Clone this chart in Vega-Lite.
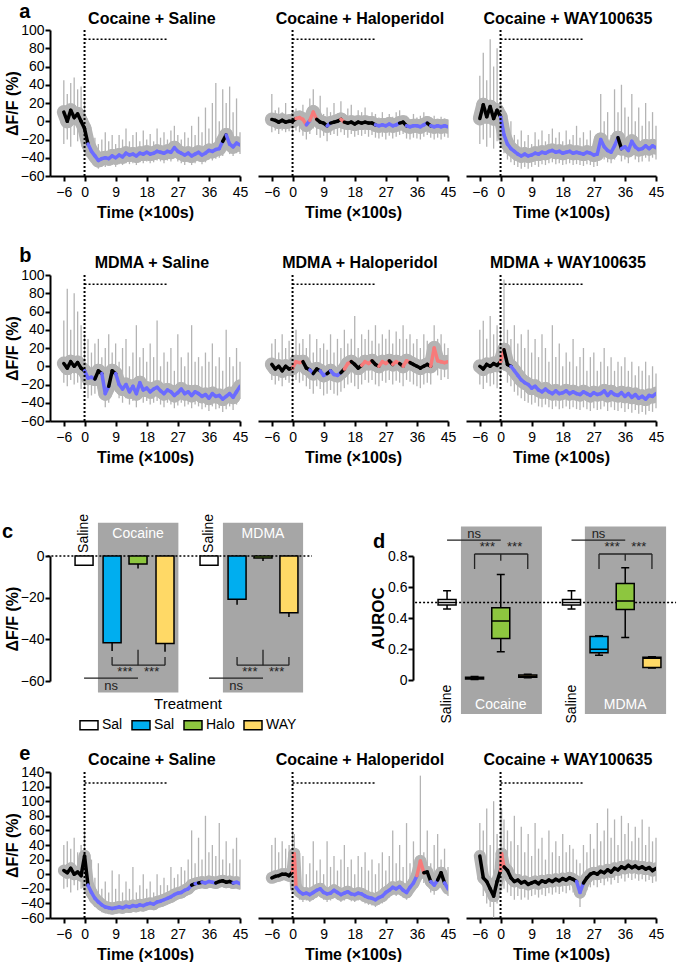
{
"$schema":"https://vega.github.io/schema/vega-lite/v6.json",
"padding":{"left":2,"top":2,"right":2,"bottom":0},
"config":{
"font":"Liberation Sans",
"view":{"stroke":null},
"axis":{"grid":false,"domainColor":"#000","domainWidth":2,"tickColor":"#000","tickWidth":2,"tickSize":5,"tickCount":30,"labelColor":"#000","labelFontSize":14,"titleColor":"#000","titleFontSize":16,"titleFontWeight":"bold","labelOverlap":false,"labelFlush":false,"labelBound":false},
"axisX":{"labelPadding":4,"titlePadding":5},
"axisY":{"labelPadding":1,"titlePadding":0},
"text":{"font":"Liberation Sans"}
},
"datasets":{
"lines":[
{"p":"a1","t":-6,"lo":-25,"hi":45,"v":10,"k":"n"},{"p":"a1","t":-5,"lo":-20,"hi":30,"v":0,"k":"n"},{"p":"a1","t":-4,"lo":-28,"hi":42,"v":12,"k":"n"},{"p":"a1","t":-3,"lo":-15,"hi":48,"v":4,"k":"n"},{"p":"a1","t":-2,"lo":-22,"hi":35,"v":8,"k":"n"},{"p":"a1","t":-1,"lo":-18,"hi":38,"v":0,"k":"n"},{"p":"a1","t":0,"lo":-25,"hi":25,"v":-8,"k":"n"},{"p":"a1","t":1,"lo":-38,"hi":-5,"v":-25,"k":"d"},{"p":"a1","t":2,"lo":-45,"hi":-15,"v":-33,"k":"d"},{"p":"a1","t":3,"lo":-48,"hi":-18,"v":-38,"k":"d"},{"p":"a1","t":4,"lo":-52,"hi":-25,"v":-43,"k":"d"},{"p":"a1","t":5,"lo":-50,"hi":-20,"v":-41,"k":"d"},{"p":"a1","t":6,"lo":-50,"hi":-12,"v":-40,"k":"d"},{"p":"a1","t":7,"lo":-48,"hi":-22,"v":-41,"k":"d"},{"p":"a1","t":8,"lo":-48,"hi":-15,"v":-38,"k":"d"},{"p":"a1","t":9,"lo":-50,"hi":-25,"v":-40,"k":"d"},{"p":"a1","t":10,"lo":-47,"hi":-15,"v":-37,"k":"d"},{"p":"a1","t":11,"lo":-48,"hi":-20,"v":-39,"k":"d"},{"p":"a1","t":12,"lo":-46,"hi":-8,"v":-35,"k":"d"},{"p":"a1","t":13,"lo":-47,"hi":-22,"v":-37,"k":"d"},{"p":"a1","t":14,"lo":-46,"hi":-15,"v":-36,"k":"d"},{"p":"a1","t":15,"lo":-48,"hi":-12,"v":-38,"k":"d"},{"p":"a1","t":16,"lo":-45,"hi":-22,"v":-35,"k":"d"},{"p":"a1","t":17,"lo":-46,"hi":-10,"v":-36,"k":"d"},{"p":"a1","t":18,"lo":-44,"hi":-20,"v":-34,"k":"d"},{"p":"a1","t":19,"lo":-46,"hi":-14,"v":-36,"k":"d"},{"p":"a1","t":20,"lo":-45,"hi":-22,"v":-35,"k":"d"},{"p":"a1","t":21,"lo":-43,"hi":-8,"v":-33,"k":"d"},{"p":"a1","t":22,"lo":-44,"hi":-18,"v":-34,"k":"d"},{"p":"a1","t":23,"lo":-46,"hi":-12,"v":-35,"k":"d"},{"p":"a1","t":24,"lo":-43,"hi":-20,"v":-33,"k":"d"},{"p":"a1","t":25,"lo":-44,"hi":-10,"v":-34,"k":"d"},{"p":"a1","t":26,"lo":-40,"hi":-5,"v":-29,"k":"d"},{"p":"a1","t":27,"lo":-44,"hi":-15,"v":-33,"k":"d"},{"p":"a1","t":28,"lo":-46,"hi":-20,"v":-35,"k":"d"},{"p":"a1","t":29,"lo":-48,"hi":-12,"v":-37,"k":"d"},{"p":"a1","t":30,"lo":-45,"hi":-18,"v":-35,"k":"d"},{"p":"a1","t":31,"lo":-48,"hi":-5,"v":-38,"k":"d"},{"p":"a1","t":32,"lo":-46,"hi":-15,"v":-36,"k":"d"},{"p":"a1","t":33,"lo":-44,"hi":5,"v":-34,"k":"d"},{"p":"a1","t":34,"lo":-47,"hi":-12,"v":-37,"k":"d"},{"p":"a1","t":35,"lo":-45,"hi":15,"v":-35,"k":"d"},{"p":"a1","t":36,"lo":-42,"hi":-8,"v":-32,"k":"d"},{"p":"a1","t":37,"lo":-43,"hi":20,"v":-33,"k":"d"},{"p":"a1","t":38,"lo":-41,"hi":42,"v":-31,"k":"d"},{"p":"a1","t":39,"lo":-40,"hi":0,"v":-30,"k":"d"},{"p":"a1","t":40,"lo":-38,"hi":35,"v":-22,"k":"n"},{"p":"a1","t":41,"lo":-30,"hi":20,"v":-15,"k":"d"},{"p":"a1","t":42,"lo":-36,"hi":38,"v":-25,"k":"d"},{"p":"a1","t":43,"lo":-38,"hi":10,"v":-28,"k":"d"},{"p":"a1","t":44,"lo":-35,"hi":25,"v":-24,"k":"d"},{"p":"a1","t":45,"lo":-36,"hi":-12,"v":-26,"k":"d"},
{"p":"a2","t":-6,"lo":-12,"hi":30,"v":2,"k":"n"},{"p":"a2","t":-5,"lo":-10,"hi":12,"v":1,"k":"n"},{"p":"a2","t":-4,"lo":-14,"hi":15,"v":-1,"k":"n"},{"p":"a2","t":-3,"lo":-10,"hi":10,"v":1,"k":"n"},{"p":"a2","t":-2,"lo":-12,"hi":20,"v":-1,"k":"n"},{"p":"a2","t":-1,"lo":-11,"hi":8,"v":0,"k":"n"},{"p":"a2","t":0,"lo":-14,"hi":12,"v":0,"k":"n"},{"p":"a2","t":1,"lo":-10,"hi":14,"v":3,"k":"u"},{"p":"a2","t":2,"lo":-12,"hi":10,"v":4,"k":"u"},{"p":"a2","t":3,"lo":-16,"hi":18,"v":2,"k":"u"},{"p":"a2","t":4,"lo":-20,"hi":8,"v":-4,"k":"d"},{"p":"a2","t":5,"lo":-14,"hi":25,"v":1,"k":"u"},{"p":"a2","t":6,"lo":-8,"hi":35,"v":10,"k":"u"},{"p":"a2","t":7,"lo":-15,"hi":12,"v":2,"k":"n"},{"p":"a2","t":8,"lo":-18,"hi":28,"v":-1,"k":"n"},{"p":"a2","t":9,"lo":-16,"hi":8,"v":-2,"k":"n"},{"p":"a2","t":10,"lo":-22,"hi":15,"v":-5,"k":"d"},{"p":"a2","t":11,"lo":-15,"hi":10,"v":-2,"k":"n"},{"p":"a2","t":12,"lo":-14,"hi":20,"v":-1,"k":"n"},{"p":"a2","t":13,"lo":-16,"hi":6,"v":0,"k":"n"},{"p":"a2","t":14,"lo":-12,"hi":22,"v":2,"k":"u"},{"p":"a2","t":15,"lo":-15,"hi":8,"v":-1,"k":"n"},{"p":"a2","t":16,"lo":-18,"hi":14,"v":-2,"k":"n"},{"p":"a2","t":17,"lo":-14,"hi":18,"v":-1,"k":"n"},{"p":"a2","t":18,"lo":-17,"hi":6,"v":-3,"k":"n"},{"p":"a2","t":19,"lo":-15,"hi":12,"v":-1,"k":"n"},{"p":"a2","t":20,"lo":-16,"hi":10,"v":-2,"k":"n"},{"p":"a2","t":21,"lo":-14,"hi":15,"v":-1,"k":"n"},{"p":"a2","t":22,"lo":-17,"hi":5,"v":-2,"k":"n"},{"p":"a2","t":23,"lo":-15,"hi":10,"v":-2,"k":"n"},{"p":"a2","t":24,"lo":-18,"hi":8,"v":-4,"k":"d"},{"p":"a2","t":25,"lo":-19,"hi":4,"v":-5,"k":"d"},{"p":"a2","t":26,"lo":-17,"hi":10,"v":-4,"k":"d"},{"p":"a2","t":27,"lo":-20,"hi":2,"v":-5,"k":"d"},{"p":"a2","t":28,"lo":-16,"hi":8,"v":-3,"k":"d"},{"p":"a2","t":29,"lo":-19,"hi":5,"v":-5,"k":"d"},{"p":"a2","t":30,"lo":-17,"hi":10,"v":-4,"k":"d"},{"p":"a2","t":31,"lo":-15,"hi":12,"v":-2,"k":"n"},{"p":"a2","t":32,"lo":-14,"hi":5,"v":-1,"k":"n"},{"p":"a2","t":33,"lo":-19,"hi":6,"v":-5,"k":"d"},{"p":"a2","t":34,"lo":-20,"hi":2,"v":-6,"k":"d"},{"p":"a2","t":35,"lo":-18,"hi":8,"v":-5,"k":"d"},{"p":"a2","t":36,"lo":-19,"hi":4,"v":-5,"k":"d"},{"p":"a2","t":37,"lo":-20,"hi":6,"v":-6,"k":"d"},{"p":"a2","t":38,"lo":-17,"hi":10,"v":-4,"k":"d"},{"p":"a2","t":39,"lo":-15,"hi":5,"v":-2,"k":"n"},{"p":"a2","t":40,"lo":-18,"hi":3,"v":-5,"k":"d"},{"p":"a2","t":41,"lo":-20,"hi":6,"v":-6,"k":"d"},{"p":"a2","t":42,"lo":-18,"hi":2,"v":-5,"k":"d"},{"p":"a2","t":43,"lo":-20,"hi":5,"v":-6,"k":"d"},{"p":"a2","t":44,"lo":-17,"hi":3,"v":-5,"k":"d"},{"p":"a2","t":45,"lo":-18,"hi":2,"v":-6,"k":"d"},
{"p":"a3","t":-6,"lo":-25,"hi":50,"v":3,"k":"n"},{"p":"a3","t":-5,"lo":-20,"hi":75,"v":18,"k":"n"},{"p":"a3","t":-4,"lo":-28,"hi":45,"v":5,"k":"n"},{"p":"a3","t":-3,"lo":-18,"hi":90,"v":16,"k":"n"},{"p":"a3","t":-2,"lo":-30,"hi":60,"v":3,"k":"n"},{"p":"a3","t":-1,"lo":-22,"hi":80,"v":12,"k":"n"},{"p":"a3","t":0,"lo":-28,"hi":40,"v":5,"k":"d"},{"p":"a3","t":1,"lo":-35,"hi":5,"v":-15,"k":"d"},{"p":"a3","t":2,"lo":-42,"hi":-8,"v":-25,"k":"d"},{"p":"a3","t":3,"lo":-45,"hi":0,"v":-30,"k":"d"},{"p":"a3","t":4,"lo":-48,"hi":-15,"v":-33,"k":"d"},{"p":"a3","t":5,"lo":-50,"hi":-20,"v":-36,"k":"d"},{"p":"a3","t":6,"lo":-52,"hi":-10,"v":-38,"k":"d"},{"p":"a3","t":7,"lo":-50,"hi":-22,"v":-36,"k":"d"},{"p":"a3","t":8,"lo":-52,"hi":-15,"v":-38,"k":"d"},{"p":"a3","t":9,"lo":-50,"hi":-25,"v":-37,"k":"d"},{"p":"a3","t":10,"lo":-48,"hi":-12,"v":-35,"k":"d"},{"p":"a3","t":11,"lo":-50,"hi":-20,"v":-36,"k":"d"},{"p":"a3","t":12,"lo":-47,"hi":-10,"v":-34,"k":"d"},{"p":"a3","t":13,"lo":-48,"hi":-22,"v":-35,"k":"d"},{"p":"a3","t":14,"lo":-46,"hi":-14,"v":-33,"k":"d"},{"p":"a3","t":15,"lo":-45,"hi":-8,"v":-32,"k":"d"},{"p":"a3","t":16,"lo":-47,"hi":-18,"v":-34,"k":"d"},{"p":"a3","t":17,"lo":-46,"hi":-12,"v":-33,"k":"d"},{"p":"a3","t":18,"lo":-48,"hi":-22,"v":-35,"k":"d"},{"p":"a3","t":19,"lo":-47,"hi":-10,"v":-34,"k":"d"},{"p":"a3","t":20,"lo":-46,"hi":-20,"v":-33,"k":"d"},{"p":"a3","t":21,"lo":-48,"hi":-15,"v":-35,"k":"d"},{"p":"a3","t":22,"lo":-47,"hi":-5,"v":-34,"k":"d"},{"p":"a3","t":23,"lo":-48,"hi":-18,"v":-35,"k":"d"},{"p":"a3","t":24,"lo":-49,"hi":-12,"v":-36,"k":"d"},{"p":"a3","t":25,"lo":-47,"hi":-20,"v":-34,"k":"d"},{"p":"a3","t":26,"lo":-48,"hi":-10,"v":-35,"k":"d"},{"p":"a3","t":27,"lo":-50,"hi":-22,"v":-37,"k":"d"},{"p":"a3","t":28,"lo":-49,"hi":-15,"v":-36,"k":"d"},{"p":"a3","t":29,"lo":-38,"hi":30,"v":-20,"k":"d"},{"p":"a3","t":30,"lo":-42,"hi":0,"v":-28,"k":"d"},{"p":"a3","t":31,"lo":-45,"hi":10,"v":-32,"k":"d"},{"p":"a3","t":32,"lo":-46,"hi":-15,"v":-34,"k":"d"},{"p":"a3","t":33,"lo":-42,"hi":35,"v":-27,"k":"d"},{"p":"a3","t":34,"lo":-35,"hi":10,"v":-18,"k":"n"},{"p":"a3","t":35,"lo":-44,"hi":40,"v":-30,"k":"d"},{"p":"a3","t":36,"lo":-42,"hi":15,"v":-28,"k":"d"},{"p":"a3","t":37,"lo":-46,"hi":5,"v":-32,"k":"d"},{"p":"a3","t":38,"lo":-38,"hi":30,"v":-22,"k":"d"},{"p":"a3","t":39,"lo":-42,"hi":0,"v":-28,"k":"d"},{"p":"a3","t":40,"lo":-45,"hi":15,"v":-31,"k":"d"},{"p":"a3","t":41,"lo":-44,"hi":-5,"v":-30,"k":"d"},{"p":"a3","t":42,"lo":-40,"hi":20,"v":-27,"k":"d"},{"p":"a3","t":43,"lo":-44,"hi":0,"v":-30,"k":"d"},{"p":"a3","t":44,"lo":-40,"hi":10,"v":-27,"k":"d"},{"p":"a3","t":45,"lo":-42,"hi":-5,"v":-29,"k":"d"},
{"p":"b1","t":-6,"lo":-18,"hi":50,"v":3,"k":"n"},{"p":"b1","t":-5,"lo":-22,"hi":85,"v":-2,"k":"n"},{"p":"b1","t":-4,"lo":-15,"hi":40,"v":5,"k":"n"},{"p":"b1","t":-3,"lo":-20,"hi":80,"v":0,"k":"n"},{"p":"b1","t":-2,"lo":-18,"hi":60,"v":4,"k":"n"},{"p":"b1","t":-1,"lo":-25,"hi":45,"v":-2,"k":"n"},{"p":"b1","t":0,"lo":-25,"hi":35,"v":-5,"k":"d"},{"p":"b1","t":1,"lo":-35,"hi":30,"v":-13,"k":"d"},{"p":"b1","t":2,"lo":-32,"hi":15,"v":-12,"k":"d"},{"p":"b1","t":3,"lo":-30,"hi":25,"v":-14,"k":"n"},{"p":"b1","t":4,"lo":-25,"hi":30,"v":-5,"k":"n"},{"p":"b1","t":5,"lo":-30,"hi":10,"v":-8,"k":"d"},{"p":"b1","t":6,"lo":-45,"hi":20,"v":-30,"k":"d"},{"p":"b1","t":7,"lo":-40,"hi":35,"v":-22,"k":"n"},{"p":"b1","t":8,"lo":-25,"hi":15,"v":-5,"k":"n"},{"p":"b1","t":9,"lo":-28,"hi":25,"v":-8,"k":"d"},{"p":"b1","t":10,"lo":-35,"hi":5,"v":-20,"k":"d"},{"p":"b1","t":11,"lo":-40,"hi":20,"v":-25,"k":"d"},{"p":"b1","t":12,"lo":-35,"hi":30,"v":-20,"k":"d"},{"p":"b1","t":13,"lo":-42,"hi":0,"v":-28,"k":"d"},{"p":"b1","t":14,"lo":-38,"hi":15,"v":-22,"k":"d"},{"p":"b1","t":15,"lo":-45,"hi":45,"v":-30,"k":"d"},{"p":"b1","t":16,"lo":-32,"hi":10,"v":-18,"k":"d"},{"p":"b1","t":17,"lo":-40,"hi":20,"v":-26,"k":"d"},{"p":"b1","t":18,"lo":-38,"hi":5,"v":-24,"k":"d"},{"p":"b1","t":19,"lo":-42,"hi":25,"v":-28,"k":"d"},{"p":"b1","t":20,"lo":-40,"hi":10,"v":-25,"k":"d"},{"p":"b1","t":21,"lo":-38,"hi":50,"v":-23,"k":"d"},{"p":"b1","t":22,"lo":-42,"hi":0,"v":-27,"k":"d"},{"p":"b1","t":23,"lo":-45,"hi":15,"v":-30,"k":"d"},{"p":"b1","t":24,"lo":-40,"hi":5,"v":-26,"k":"d"},{"p":"b1","t":25,"lo":-42,"hi":20,"v":-28,"k":"d"},{"p":"b1","t":26,"lo":-46,"hi":-5,"v":-32,"k":"d"},{"p":"b1","t":27,"lo":-43,"hi":35,"v":-29,"k":"d"},{"p":"b1","t":28,"lo":-40,"hi":10,"v":-25,"k":"d"},{"p":"b1","t":29,"lo":-44,"hi":0,"v":-30,"k":"d"},{"p":"b1","t":30,"lo":-42,"hi":15,"v":-28,"k":"d"},{"p":"b1","t":31,"lo":-46,"hi":45,"v":-32,"k":"d"},{"p":"b1","t":32,"lo":-42,"hi":5,"v":-28,"k":"d"},{"p":"b1","t":33,"lo":-44,"hi":10,"v":-30,"k":"d"},{"p":"b1","t":34,"lo":-47,"hi":0,"v":-33,"k":"d"},{"p":"b1","t":35,"lo":-45,"hi":15,"v":-31,"k":"d"},{"p":"b1","t":36,"lo":-49,"hi":5,"v":-35,"k":"d"},{"p":"b1","t":37,"lo":-44,"hi":25,"v":-30,"k":"d"},{"p":"b1","t":38,"lo":-47,"hi":0,"v":-33,"k":"d"},{"p":"b1","t":39,"lo":-46,"hi":10,"v":-32,"k":"d"},{"p":"b1","t":40,"lo":-50,"hi":-5,"v":-36,"k":"d"},{"p":"b1","t":41,"lo":-47,"hi":40,"v":-33,"k":"d"},{"p":"b1","t":42,"lo":-44,"hi":10,"v":-30,"k":"d"},{"p":"b1","t":43,"lo":-48,"hi":0,"v":-34,"k":"d"},{"p":"b1","t":44,"lo":-42,"hi":20,"v":-28,"k":"d"},{"p":"b1","t":45,"lo":-36,"hi":5,"v":-22,"k":"d"},
{"p":"b2","t":-6,"lo":-15,"hi":25,"v":2,"k":"n"},{"p":"b2","t":-5,"lo":-20,"hi":30,"v":-3,"k":"n"},{"p":"b2","t":-4,"lo":-16,"hi":15,"v":0,"k":"n"},{"p":"b2","t":-3,"lo":-22,"hi":35,"v":-5,"k":"n"},{"p":"b2","t":-2,"lo":-15,"hi":20,"v":0,"k":"n"},{"p":"b2","t":-1,"lo":-18,"hi":28,"v":-3,"k":"n"},{"p":"b2","t":0,"lo":-20,"hi":15,"v":-2,"k":"u"},{"p":"b2","t":1,"lo":-15,"hi":40,"v":5,"k":"u"},{"p":"b2","t":2,"lo":-18,"hi":25,"v":4,"k":"u"},{"p":"b2","t":3,"lo":-16,"hi":30,"v":5,"k":"n"},{"p":"b2","t":4,"lo":-22,"hi":20,"v":-2,"k":"n"},{"p":"b2","t":5,"lo":-25,"hi":35,"v":-4,"k":"d"},{"p":"b2","t":6,"lo":-30,"hi":15,"v":-8,"k":"n"},{"p":"b2","t":7,"lo":-22,"hi":30,"v":-3,"k":"n"},{"p":"b2","t":8,"lo":-25,"hi":20,"v":-5,"k":"d"},{"p":"b2","t":9,"lo":-32,"hi":25,"v":-10,"k":"d"},{"p":"b2","t":10,"lo":-30,"hi":18,"v":-8,"k":"n"},{"p":"b2","t":11,"lo":-26,"hi":35,"v":-5,"k":"d"},{"p":"b2","t":12,"lo":-30,"hi":15,"v":-9,"k":"d"},{"p":"b2","t":13,"lo":-32,"hi":30,"v":-10,"k":"d"},{"p":"b2","t":14,"lo":-28,"hi":20,"v":-7,"k":"n"},{"p":"b2","t":15,"lo":-24,"hi":40,"v":-3,"k":"u"},{"p":"b2","t":16,"lo":-20,"hi":25,"v":3,"k":"u"},{"p":"b2","t":17,"lo":-18,"hi":30,"v":5,"k":"n"},{"p":"b2","t":18,"lo":-22,"hi":55,"v":2,"k":"n"},{"p":"b2","t":19,"lo":-25,"hi":20,"v":-2,"k":"n"},{"p":"b2","t":20,"lo":-20,"hi":35,"v":1,"k":"u"},{"p":"b2","t":21,"lo":-15,"hi":30,"v":5,"k":"u"},{"p":"b2","t":22,"lo":-18,"hi":40,"v":3,"k":"u"},{"p":"b2","t":23,"lo":-15,"hi":28,"v":6,"k":"n"},{"p":"b2","t":24,"lo":-20,"hi":45,"v":2,"k":"n"},{"p":"b2","t":25,"lo":-22,"hi":25,"v":0,"k":"u"},{"p":"b2","t":26,"lo":-16,"hi":35,"v":5,"k":"u"},{"p":"b2","t":27,"lo":-18,"hi":30,"v":3,"k":"u"},{"p":"b2","t":28,"lo":-15,"hi":40,"v":6,"k":"n"},{"p":"b2","t":29,"lo":-20,"hi":25,"v":2,"k":"u"},{"p":"b2","t":30,"lo":-16,"hi":38,"v":5,"k":"u"},{"p":"b2","t":31,"lo":-18,"hi":30,"v":3,"k":"n"},{"p":"b2","t":32,"lo":-22,"hi":45,"v":0,"k":"u"},{"p":"b2","t":33,"lo":-15,"hi":30,"v":6,"k":"u"},{"p":"b2","t":34,"lo":-17,"hi":35,"v":4,"k":"n"},{"p":"b2","t":35,"lo":-20,"hi":25,"v":2,"k":"n"},{"p":"b2","t":36,"lo":-22,"hi":30,"v":0,"k":"n"},{"p":"b2","t":37,"lo":-24,"hi":20,"v":-2,"k":"n"},{"p":"b2","t":38,"lo":-20,"hi":35,"v":0,"k":"n"},{"p":"b2","t":39,"lo":-18,"hi":28,"v":2,"k":"n"},{"p":"b2","t":40,"lo":-20,"hi":25,"v":0,"k":"u"},{"p":"b2","t":41,"lo":0,"hi":45,"v":20,"k":"u"},{"p":"b2","t":42,"lo":-10,"hi":30,"v":6,"k":"u"},{"p":"b2","t":43,"lo":-15,"hi":35,"v":5,"k":"u"},{"p":"b2","t":44,"lo":-12,"hi":25,"v":4,"k":"u"},{"p":"b2","t":45,"lo":-14,"hi":20,"v":5,"k":"u"},
{"p":"b3","t":-6,"lo":-20,"hi":40,"v":0,"k":"n"},{"p":"b3","t":-5,"lo":-25,"hi":50,"v":-3,"k":"n"},{"p":"b3","t":-4,"lo":-18,"hi":30,"v":2,"k":"n"},{"p":"b3","t":-3,"lo":-22,"hi":55,"v":0,"k":"n"},{"p":"b3","t":-2,"lo":-20,"hi":35,"v":3,"k":"n"},{"p":"b3","t":-1,"lo":-24,"hi":45,"v":1,"k":"n"},{"p":"b3","t":0,"lo":-15,"hi":40,"v":5,"k":"u"},{"p":"b3","t":1,"lo":-5,"hi":95,"v":18,"k":"n"},{"p":"b3","t":2,"lo":-18,"hi":40,"v":2,"k":"n"},{"p":"b3","t":3,"lo":-22,"hi":30,"v":0,"k":"d"},{"p":"b3","t":4,"lo":-28,"hi":45,"v":-5,"k":"d"},{"p":"b3","t":5,"lo":-32,"hi":25,"v":-10,"k":"d"},{"p":"b3","t":6,"lo":-35,"hi":35,"v":-15,"k":"d"},{"p":"b3","t":7,"lo":-38,"hi":20,"v":-18,"k":"d"},{"p":"b3","t":8,"lo":-40,"hi":40,"v":-20,"k":"d"},{"p":"b3","t":9,"lo":-42,"hi":15,"v":-24,"k":"d"},{"p":"b3","t":10,"lo":-40,"hi":30,"v":-22,"k":"d"},{"p":"b3","t":11,"lo":-44,"hi":10,"v":-26,"k":"d"},{"p":"b3","t":12,"lo":-45,"hi":35,"v":-28,"k":"d"},{"p":"b3","t":13,"lo":-42,"hi":20,"v":-25,"k":"d"},{"p":"b3","t":14,"lo":-45,"hi":5,"v":-28,"k":"d"},{"p":"b3","t":15,"lo":-47,"hi":45,"v":-30,"k":"d"},{"p":"b3","t":16,"lo":-44,"hi":10,"v":-27,"k":"d"},{"p":"b3","t":17,"lo":-47,"hi":25,"v":-30,"k":"d"},{"p":"b3","t":18,"lo":-46,"hi":0,"v":-29,"k":"d"},{"p":"b3","t":19,"lo":-44,"hi":15,"v":-27,"k":"d"},{"p":"b3","t":20,"lo":-47,"hi":5,"v":-30,"k":"d"},{"p":"b3","t":21,"lo":-45,"hi":30,"v":-28,"k":"d"},{"p":"b3","t":22,"lo":-47,"hi":0,"v":-30,"k":"d"},{"p":"b3","t":23,"lo":-48,"hi":10,"v":-31,"k":"d"},{"p":"b3","t":24,"lo":-45,"hi":20,"v":-28,"k":"d"},{"p":"b3","t":25,"lo":-47,"hi":-5,"v":-30,"k":"d"},{"p":"b3","t":26,"lo":-49,"hi":10,"v":-32,"k":"d"},{"p":"b3","t":27,"lo":-46,"hi":15,"v":-29,"k":"d"},{"p":"b3","t":28,"lo":-48,"hi":-5,"v":-31,"k":"d"},{"p":"b3","t":29,"lo":-47,"hi":5,"v":-30,"k":"d"},{"p":"b3","t":30,"lo":-44,"hi":20,"v":-27,"k":"d"},{"p":"b3","t":31,"lo":-49,"hi":0,"v":-32,"k":"d"},{"p":"b3","t":32,"lo":-45,"hi":10,"v":-28,"k":"d"},{"p":"b3","t":33,"lo":-48,"hi":-5,"v":-31,"k":"d"},{"p":"b3","t":34,"lo":-49,"hi":5,"v":-32,"k":"d"},{"p":"b3","t":35,"lo":-46,"hi":0,"v":-29,"k":"d"},{"p":"b3","t":36,"lo":-50,"hi":10,"v":-33,"k":"d"},{"p":"b3","t":37,"lo":-47,"hi":-5,"v":-30,"k":"d"},{"p":"b3","t":38,"lo":-51,"hi":5,"v":-34,"k":"d"},{"p":"b3","t":39,"lo":-48,"hi":-10,"v":-31,"k":"d"},{"p":"b3","t":40,"lo":-52,"hi":0,"v":-35,"k":"d"},{"p":"b3","t":41,"lo":-50,"hi":-5,"v":-33,"k":"d"},{"p":"b3","t":42,"lo":-53,"hi":5,"v":-36,"k":"d"},{"p":"b3","t":43,"lo":-49,"hi":-10,"v":-32,"k":"d"},{"p":"b3","t":44,"lo":-50,"hi":0,"v":-33,"k":"d"},{"p":"b3","t":45,"lo":-46,"hi":-8,"v":-30,"k":"d"},
{"p":"e1","t":-6,"lo":-20,"hi":40,"v":5,"k":"n"},{"p":"e1","t":-5,"lo":-18,"hi":45,"v":2,"k":"n"},{"p":"e1","t":-4,"lo":-25,"hi":35,"v":8,"k":"n"},{"p":"e1","t":-3,"lo":-15,"hi":50,"v":0,"k":"n"},{"p":"e1","t":-2,"lo":-22,"hi":30,"v":3,"k":"n"},{"p":"e1","t":-1,"lo":-20,"hi":40,"v":-2,"k":"n"},{"p":"e1","t":0,"lo":-25,"hi":60,"v":25,"k":"n"},{"p":"e1","t":1,"lo":-30,"hi":10,"v":-15,"k":"d"},{"p":"e1","t":2,"lo":-38,"hi":20,"v":-25,"k":"d"},{"p":"e1","t":3,"lo":-45,"hi":-5,"v":-33,"k":"d"},{"p":"e1","t":4,"lo":-48,"hi":15,"v":-38,"k":"d"},{"p":"e1","t":5,"lo":-52,"hi":-20,"v":-42,"k":"d"},{"p":"e1","t":6,"lo":-54,"hi":-10,"v":-45,"k":"d"},{"p":"e1","t":7,"lo":-55,"hi":-25,"v":-46,"k":"d"},{"p":"e1","t":8,"lo":-55,"hi":5,"v":-47,"k":"d"},{"p":"e1","t":9,"lo":-54,"hi":-20,"v":-46,"k":"d"},{"p":"e1","t":10,"lo":-53,"hi":0,"v":-45,"k":"d"},{"p":"e1","t":11,"lo":-54,"hi":-25,"v":-46,"k":"d"},{"p":"e1","t":12,"lo":-52,"hi":-10,"v":-44,"k":"d"},{"p":"e1","t":13,"lo":-53,"hi":-20,"v":-45,"k":"d"},{"p":"e1","t":14,"lo":-51,"hi":10,"v":-43,"k":"d"},{"p":"e1","t":15,"lo":-52,"hi":-25,"v":-44,"k":"d"},{"p":"e1","t":16,"lo":-50,"hi":-15,"v":-42,"k":"d"},{"p":"e1","t":17,"lo":-51,"hi":0,"v":-43,"k":"d"},{"p":"e1","t":18,"lo":-49,"hi":-20,"v":-41,"k":"d"},{"p":"e1","t":19,"lo":-48,"hi":-10,"v":-40,"k":"d"},{"p":"e1","t":20,"lo":-49,"hi":-25,"v":-41,"k":"d"},{"p":"e1","t":21,"lo":-46,"hi":0,"v":-38,"k":"d"},{"p":"e1","t":22,"lo":-45,"hi":-15,"v":-37,"k":"d"},{"p":"e1","t":23,"lo":-43,"hi":-5,"v":-35,"k":"d"},{"p":"e1","t":24,"lo":-41,"hi":-15,"v":-33,"k":"d"},{"p":"e1","t":25,"lo":-39,"hi":10,"v":-31,"k":"d"},{"p":"e1","t":26,"lo":-36,"hi":-5,"v":-28,"k":"d"},{"p":"e1","t":27,"lo":-34,"hi":0,"v":-26,"k":"d"},{"p":"e1","t":28,"lo":-33,"hi":10,"v":-25,"k":"d"},{"p":"e1","t":29,"lo":-30,"hi":5,"v":-22,"k":"d"},{"p":"e1","t":30,"lo":-28,"hi":20,"v":-20,"k":"d"},{"p":"e1","t":31,"lo":-23,"hi":60,"v":-15,"k":"n"},{"p":"e1","t":32,"lo":-21,"hi":15,"v":-13,"k":"d"},{"p":"e1","t":33,"lo":-20,"hi":50,"v":-12,"k":"n"},{"p":"e1","t":34,"lo":-19,"hi":20,"v":-11,"k":"d"},{"p":"e1","t":35,"lo":-20,"hi":80,"v":-12,"k":"d"},{"p":"e1","t":36,"lo":-18,"hi":30,"v":-10,"k":"d"},{"p":"e1","t":37,"lo":-19,"hi":40,"v":-11,"k":"d"},{"p":"e1","t":38,"lo":-20,"hi":25,"v":-12,"k":"n"},{"p":"e1","t":39,"lo":-18,"hi":70,"v":-10,"k":"n"},{"p":"e1","t":40,"lo":-17,"hi":20,"v":-9,"k":"n"},{"p":"e1","t":41,"lo":-19,"hi":45,"v":-11,"k":"n"},{"p":"e1","t":42,"lo":-18,"hi":15,"v":-10,"k":"n"},{"p":"e1","t":43,"lo":-20,"hi":35,"v":-12,"k":"d"},{"p":"e1","t":44,"lo":-19,"hi":50,"v":-11,"k":"d"},{"p":"e1","t":45,"lo":-21,"hi":20,"v":-13,"k":"d"},
{"p":"e2","t":-6,"lo":-10,"hi":40,"v":-5,"k":"n"},{"p":"e2","t":-5,"lo":-8,"hi":50,"v":-3,"k":"n"},{"p":"e2","t":-4,"lo":-10,"hi":30,"v":-2,"k":"n"},{"p":"e2","t":-3,"lo":-5,"hi":45,"v":0,"k":"n"},{"p":"e2","t":-2,"lo":-8,"hi":35,"v":0,"k":"n"},{"p":"e2","t":-1,"lo":-10,"hi":40,"v":-2,"k":"n"},{"p":"e2","t":0,"lo":-10,"hi":60,"v":3,"k":"u"},{"p":"e2","t":0.5,"lo":-5,"hi":55,"v":28,"k":"u"},{"p":"e2","t":1,"lo":-30,"hi":20,"v":-18,"k":"d"},{"p":"e2","t":2,"lo":-35,"hi":10,"v":-24,"k":"d"},{"p":"e2","t":3,"lo":-38,"hi":25,"v":-27,"k":"d"},{"p":"e2","t":4,"lo":-36,"hi":0,"v":-26,"k":"d"},{"p":"e2","t":5,"lo":-38,"hi":15,"v":-28,"k":"d"},{"p":"e2","t":6,"lo":-35,"hi":45,"v":-25,"k":"d"},{"p":"e2","t":7,"lo":-32,"hi":5,"v":-22,"k":"d"},{"p":"e2","t":8,"lo":-30,"hi":20,"v":-20,"k":"d"},{"p":"e2","t":9,"lo":-35,"hi":0,"v":-25,"k":"d"},{"p":"e2","t":10,"lo":-38,"hi":45,"v":-27,"k":"d"},{"p":"e2","t":11,"lo":-36,"hi":10,"v":-26,"k":"d"},{"p":"e2","t":12,"lo":-32,"hi":25,"v":-22,"k":"d"},{"p":"e2","t":13,"lo":-35,"hi":5,"v":-25,"k":"d"},{"p":"e2","t":14,"lo":-38,"hi":20,"v":-28,"k":"d"},{"p":"e2","t":15,"lo":-36,"hi":40,"v":-26,"k":"d"},{"p":"e2","t":16,"lo":-34,"hi":10,"v":-24,"k":"d"},{"p":"e2","t":17,"lo":-37,"hi":20,"v":-27,"k":"d"},{"p":"e2","t":18,"lo":-38,"hi":0,"v":-28,"k":"d"},{"p":"e2","t":19,"lo":-36,"hi":25,"v":-26,"k":"d"},{"p":"e2","t":20,"lo":-37,"hi":10,"v":-27,"k":"d"},{"p":"e2","t":21,"lo":-40,"hi":30,"v":-30,"k":"d"},{"p":"e2","t":22,"lo":-42,"hi":5,"v":-32,"k":"d"},{"p":"e2","t":23,"lo":-43,"hi":20,"v":-33,"k":"d"},{"p":"e2","t":24,"lo":-45,"hi":0,"v":-35,"k":"d"},{"p":"e2","t":25,"lo":-42,"hi":15,"v":-32,"k":"d"},{"p":"e2","t":26,"lo":-40,"hi":30,"v":-30,"k":"d"},{"p":"e2","t":27,"lo":-35,"hi":5,"v":-25,"k":"d"},{"p":"e2","t":28,"lo":-32,"hi":25,"v":-22,"k":"d"},{"p":"e2","t":29,"lo":-28,"hi":60,"v":-18,"k":"d"},{"p":"e2","t":30,"lo":-30,"hi":15,"v":-20,"k":"d"},{"p":"e2","t":31,"lo":-27,"hi":40,"v":-17,"k":"d"},{"p":"e2","t":32,"lo":-32,"hi":10,"v":-22,"k":"d"},{"p":"e2","t":33,"lo":-35,"hi":70,"v":-25,"k":"d"},{"p":"e2","t":34,"lo":-28,"hi":15,"v":-18,"k":"d"},{"p":"e2","t":35,"lo":-22,"hi":45,"v":-12,"k":"d"},{"p":"e2","t":36,"lo":-18,"hi":20,"v":-2,"k":"u"},{"p":"e2","t":37,"lo":5,"hi":135,"v":18,"k":"u"},{"p":"e2","t":38,"lo":-12,"hi":30,"v":2,"k":"n"},{"p":"e2","t":39,"lo":-15,"hi":60,"v":3,"k":"n"},{"p":"e2","t":40,"lo":-25,"hi":15,"v":-10,"k":"d"},{"p":"e2","t":41,"lo":-28,"hi":40,"v":-15,"k":"d"},{"p":"e2","t":42,"lo":-20,"hi":55,"v":-8,"k":"n"},{"p":"e2","t":43,"lo":-12,"hi":20,"v":2,"k":"n"},{"p":"e2","t":44,"lo":-25,"hi":35,"v":-12,"k":"d"},{"p":"e2","t":45,"lo":-30,"hi":10,"v":-20,"k":"d"},
{"p":"e3","t":-6,"lo":-10,"hi":70,"v":25,"k":"n"},{"p":"e3","t":-5,"lo":-30,"hi":60,"v":-5,"k":"n"},{"p":"e3","t":-4,"lo":-40,"hi":90,"v":-10,"k":"n"},{"p":"e3","t":-3,"lo":-45,"hi":40,"v":-20,"k":"n"},{"p":"e3","t":-2,"lo":-60,"hi":100,"v":-30,"k":"n"},{"p":"e3","t":-1,"lo":-40,"hi":55,"v":-10,"k":"n"},{"p":"e3","t":0,"lo":-25,"hi":100,"v":5,"k":"u"},{"p":"e3","t":0.3,"lo":-22,"hi":90,"v":28,"k":"u"},{"p":"e3","t":1,"lo":-20,"hi":75,"v":10,"k":"n"},{"p":"e3","t":2,"lo":-25,"hi":60,"v":5,"k":"n"},{"p":"e3","t":3,"lo":-30,"hi":45,"v":-5,"k":"n"},{"p":"e3","t":4,"lo":-35,"hi":80,"v":-10,"k":"n"},{"p":"e3","t":5,"lo":-30,"hi":40,"v":-8,"k":"n"},{"p":"e3","t":6,"lo":-35,"hi":65,"v":-12,"k":"n"},{"p":"e3","t":7,"lo":-32,"hi":30,"v":-10,"k":"n"},{"p":"e3","t":8,"lo":-35,"hi":55,"v":-14,"k":"n"},{"p":"e3","t":9,"lo":-30,"hi":25,"v":-12,"k":"n"},{"p":"e3","t":10,"lo":-28,"hi":70,"v":-10,"k":"n"},{"p":"e3","t":11,"lo":-32,"hi":35,"v":-13,"k":"n"},{"p":"e3","t":12,"lo":-28,"hi":50,"v":-9,"k":"n"},{"p":"e3","t":13,"lo":-30,"hi":20,"v":-11,"k":"n"},{"p":"e3","t":14,"lo":-26,"hi":60,"v":-8,"k":"n"},{"p":"e3","t":15,"lo":-28,"hi":30,"v":-10,"k":"n"},{"p":"e3","t":16,"lo":-25,"hi":45,"v":-7,"k":"n"},{"p":"e3","t":17,"lo":-27,"hi":25,"v":-9,"k":"n"},{"p":"e3","t":18,"lo":-24,"hi":55,"v":-6,"k":"n"},{"p":"e3","t":19,"lo":-26,"hi":30,"v":-8,"k":"n"},{"p":"e3","t":20,"lo":-22,"hi":40,"v":-5,"k":"n"},{"p":"e3","t":21,"lo":-25,"hi":35,"v":-7,"k":"n"},{"p":"e3","t":22,"lo":-30,"hi":20,"v":-10,"k":"d"},{"p":"e3","t":23,"lo":-45,"hi":15,"v":-25,"k":"d"},{"p":"e3","t":24,"lo":-30,"hi":40,"v":-12,"k":"n"},{"p":"e3","t":25,"lo":-22,"hi":30,"v":-5,"k":"n"},{"p":"e3","t":26,"lo":-18,"hi":55,"v":0,"k":"n"},{"p":"e3","t":27,"lo":-15,"hi":35,"v":2,"k":"n"},{"p":"e3","t":28,"lo":-18,"hi":70,"v":0,"k":"n"},{"p":"e3","t":29,"lo":-12,"hi":45,"v":4,"k":"n"},{"p":"e3","t":30,"lo":-15,"hi":60,"v":2,"k":"n"},{"p":"e3","t":31,"lo":-10,"hi":90,"v":6,"k":"n"},{"p":"e3","t":32,"lo":-14,"hi":50,"v":3,"k":"n"},{"p":"e3","t":33,"lo":-8,"hi":75,"v":8,"k":"n"},{"p":"e3","t":34,"lo":-12,"hi":40,"v":6,"k":"n"},{"p":"e3","t":35,"lo":-6,"hi":80,"v":10,"k":"n"},{"p":"e3","t":36,"lo":-10,"hi":55,"v":8,"k":"n"},{"p":"e3","t":37,"lo":-5,"hi":70,"v":12,"k":"n"},{"p":"e3","t":38,"lo":-8,"hi":45,"v":9,"k":"n"},{"p":"e3","t":39,"lo":-6,"hi":65,"v":11,"k":"n"},{"p":"e3","t":40,"lo":-9,"hi":50,"v":8,"k":"n"},{"p":"e3","t":41,"lo":-7,"hi":75,"v":10,"k":"n"},{"p":"e3","t":42,"lo":-10,"hi":40,"v":7,"k":"n"},{"p":"e3","t":43,"lo":-8,"hi":65,"v":9,"k":"n"},{"p":"e3","t":44,"lo":-12,"hi":45,"v":5,"k":"n"},{"p":"e3","t":45,"lo":-10,"hi":50,"v":8,"k":"n"}
],
"cgrp":[{"x0":1.83,"x1":4.9,"lab":"Cocaine","lx":3.36},{"x0":6.6,"x1":9.66,"lab":"MDMA","lx":8.13}],
"dgrp":[{"x0":1.83,"x1":4.92,"lab":"Cocaine","lx":3.35},{"x0":6.56,"x1":9.66,"lab":"MDMA","lx":8.1}],
"sal":[{"x":1.3,"lab":"Saline"},{"x":6.06,"lab":"Saline"}],
"cbar":[{"x":1.3,"v":-4.4,"e":-4.8,"g":"Sal0"},{"x":2.37,"v":-41.6,"e":-45.6,"g":"Sal"},{"x":3.36,"v":-3.8,"e":-6,"g":"Halo"},{"x":4.39,"v":-42,"e":-46,"g":"WAY"},{"x":6.07,"v":-4.4,"e":-4.8,"g":"Sal0"},{"x":7.14,"v":-20.8,"e":-23.4,"g":"Sal"},{"x":8.13,"v":-1,"e":-2.4,"g":"Halo"},{"x":9.12,"v":-27.2,"e":-29.3,"g":"WAY"}],
"csig":[{"x":1.3,"x2":3.36,"y":-58.6,"y2":-58.6},{"x":2.37,"x2":4.39,"y":-52.4,"y2":-52.4},{"x":2.37,"x2":2.37,"y":-48.5,"y2":-52.4},{"x":3.36,"x2":3.36,"y":-45,"y2":-52.4},{"x":4.39,"x2":4.39,"y":-48.5,"y2":-52.4},{"x":6.07,"x2":8.13,"y":-58.6,"y2":-58.6},{"x":7.14,"x2":9.12,"y":-52.4,"y2":-52.4},{"x":7.14,"x2":7.14,"y":-48.5,"y2":-52.4},{"x":8.13,"x2":8.13,"y":-45,"y2":-52.4},{"x":9.12,"x2":9.12,"y":-48.5,"y2":-52.4}],
"ctxt":[{"x":2.33,"y":-62.5,"s":"ns"},{"x":2.86,"y":-55.9,"s":"***"},{"x":3.88,"y":-55.9,"s":"***"},{"x":7.1,"y":-62.5,"s":"ns"},{"x":7.63,"y":-55.9,"s":"***"},{"x":8.65,"y":-55.9,"s":"***"}],
"dbox":[{"x":1.3,"lo":0.458,"q1":0.484,"med":0.5,"q3":0.52,"hi":0.576,"g":"Sal0"},{"x":2.35,"lo":0.003,"q1":0.007,"med":0.012,"q3":0.018,"hi":0.022,"g":"Sal"},{"x":3.35,"lo":0.183,"q1":0.268,"med":0.38,"q3":0.466,"hi":0.68,"g":"Halo"},{"x":4.38,"lo":0.014,"q1":0.018,"med":0.025,"q3":0.032,"hi":0.037,"g":"WAY"},{"x":6.05,"lo":0.458,"q1":0.484,"med":0.5,"q3":0.52,"hi":0.576,"g":"Sal0"},{"x":7.1,"lo":0.16,"q1":0.176,"med":0.198,"q3":0.28,"hi":0.285,"g":"Sal"},{"x":8.1,"lo":0.275,"q1":0.455,"med":0.51,"q3":0.623,"hi":0.725,"g":"Halo"},{"x":9.12,"lo":0.078,"q1":0.081,"med":0.14,"q3":0.146,"hi":0.15,"g":"WAY"}],
"dsig":[{"x":1.3,"x2":3.35,"y":0.903,"y2":0.903},{"x":2.35,"x2":4.38,"y":0.813,"y2":0.813},{"x":2.35,"x2":2.35,"y":0.716,"y2":0.813},{"x":3.35,"x2":3.35,"y":0.77,"y2":0.813},{"x":4.38,"x2":4.38,"y":0.716,"y2":0.813},{"x":6.05,"x2":8.1,"y":0.903,"y2":0.903},{"x":7.1,"x2":9.12,"y":0.813,"y2":0.813},{"x":7.1,"x2":7.1,"y":0.716,"y2":0.813},{"x":8.1,"x2":8.1,"y":0.77,"y2":0.813},{"x":9.12,"x2":9.12,"y":0.716,"y2":0.813}],
"dtxt":[{"x":2.33,"y":0.945,"s":"ns"},{"x":2.84,"y":0.858,"s":"***"},{"x":3.88,"y":0.858,"s":"***"},{"x":7.08,"y":0.945,"s":"ns"},{"x":7.6,"y":0.858,"s":"***"},{"x":8.62,"y":0.858,"s":"***"}]
},
"resolve":{"scale":{"color":"independent","fill":"independent"}},
"spacing":48,
"vconcat":[
{"spacing":25,"resolve":{"scale":{"color":"independent","fill":"independent"}},
"vconcat":[
{"spacing":10,"resolve":{"scale":{"color":"independent","fill":"independent"}},
"hconcat":[
{"width":190,"height":146,"layer":[
{"data":{"name":"lines"},"transform":[{"filter":"datum.p=='a1'"}],"mark":{"type":"rule","color":"#b4b4b4","strokeWidth":1.3},"encoding":{"x":{"field":"t","type":"quantitative","scale":{"domain":[-6,45],"padding":0},"axis":{"values":[-6,0,9,18,27,36,45],"title":"Time (×100s)"}},"y":{"field":"lo","type":"quantitative","scale":{"domain":[-60,100],"padding":0},"axis":{"values":[-60,-40,-20,0,20,40,60,80,100],"title":"ΔF/F (%)"}},"y2":{"field":"hi"}}},
{"data":{"name":"lines"},"transform":[{"filter":"datum.p=='a1'"},{"window":[{"op":"lead","field":"t","as":"t2"},{"op":"lead","field":"v","as":"v2"}],"sort":[{"field":"t","order":"ascending"}]},{"filter":"datum.t2!=null"}],"mark":{"type":"rule","strokeWidth":14,"strokeCap":"round","color":"#b4b4b4","clip":true},"encoding":{"x":{"field":"t","type":"quantitative"},"x2":{"field":"t2"},"y":{"field":"v","type":"quantitative"},"y2":{"field":"v2"}}},
{"data":{"name":"lines"},"transform":[{"filter":"datum.p=='a1'"},{"window":[{"op":"lead","field":"t","as":"t2"},{"op":"lead","field":"v","as":"v2"}],"sort":[{"field":"t","order":"ascending"}]},{"filter":"datum.t2!=null"}],"mark":{"type":"rule","strokeWidth":3.5,"strokeCap":"round","clip":true},"encoding":{"x":{"field":"t","type":"quantitative"},"x2":{"field":"t2"},"y":{"field":"v","type":"quantitative"},"y2":{"field":"v2"},"color":{"field":"k","type":"nominal","scale":{"domain":["n","d","u"],"range":["#000000","#6b6bff","#f87a7a"]},"legend":null}}},
{"data":{"values":[{}]},"mark":{"type":"rule","strokeDash":[2,2],"strokeWidth":2,"color":"#000"},"encoding":{"x":{"datum":0}}},
{"data":{"values":[{}]},"mark":{"type":"rule","strokeDash":[2,2],"strokeWidth":1.5,"color":"#000"},"encoding":{"x":{"datum":0},"x2":{"datum":24},"y":{"datum":90}}},
{"data":{"values":[{}]},"mark":{"type":"text","fontSize":16,"fontWeight":"bold","align":"center","baseline":"middle","color":"#000"},"encoding":{"x":{"datum":19.5},"y":{"datum":112},"text":{"value":"Cocaine + Saline"}}},
{"data":{"values":[{}]},"mark":{"type":"text","fontSize":20,"fontWeight":"bold","align":"left","baseline":"middle","color":"#000"},"encoding":{"x":{"datum":-18.9},"y":{"datum":119.7},"text":{"value":"a"}}}
]},
{"width":190,"height":146,"layer":[
{"data":{"name":"lines"},"transform":[{"filter":"datum.p=='a2'"}],"mark":{"type":"rule","color":"#b4b4b4","strokeWidth":1.3},"encoding":{"x":{"field":"t","type":"quantitative","scale":{"domain":[-6,45],"padding":0},"axis":{"values":[-6,0,9,18,27,36,45],"title":"Time (×100s)"}},"y":{"field":"lo","type":"quantitative","scale":{"domain":[-60,100],"padding":0},"axis":null},"y2":{"field":"hi"}}},
{"data":{"name":"lines"},"transform":[{"filter":"datum.p=='a2'"},{"window":[{"op":"lead","field":"t","as":"t2"},{"op":"lead","field":"v","as":"v2"}],"sort":[{"field":"t","order":"ascending"}]},{"filter":"datum.t2!=null"}],"mark":{"type":"rule","strokeWidth":14,"strokeCap":"round","color":"#b4b4b4","clip":true},"encoding":{"x":{"field":"t","type":"quantitative"},"x2":{"field":"t2"},"y":{"field":"v","type":"quantitative"},"y2":{"field":"v2"}}},
{"data":{"name":"lines"},"transform":[{"filter":"datum.p=='a2'"},{"window":[{"op":"lead","field":"t","as":"t2"},{"op":"lead","field":"v","as":"v2"}],"sort":[{"field":"t","order":"ascending"}]},{"filter":"datum.t2!=null"}],"mark":{"type":"rule","strokeWidth":3.5,"strokeCap":"round","clip":true},"encoding":{"x":{"field":"t","type":"quantitative"},"x2":{"field":"t2"},"y":{"field":"v","type":"quantitative"},"y2":{"field":"v2"},"color":{"field":"k","type":"nominal","scale":{"domain":["n","d","u"],"range":["#000000","#6b6bff","#f87a7a"]},"legend":null}}},
{"data":{"values":[{}]},"mark":{"type":"rule","strokeDash":[2,2],"strokeWidth":2,"color":"#000"},"encoding":{"x":{"datum":0}}},
{"data":{"values":[{}]},"mark":{"type":"rule","strokeDash":[2,2],"strokeWidth":1.5,"color":"#000"},"encoding":{"x":{"datum":0},"x2":{"datum":24},"y":{"datum":90}}},
{"data":{"values":[{}]},"mark":{"type":"text","fontSize":16,"fontWeight":"bold","align":"center","baseline":"middle","color":"#000"},"encoding":{"x":{"datum":19.5},"y":{"datum":112},"text":{"value":"Cocaine + Haloperidol"}}}
]},
{"width":190,"height":146,"layer":[
{"data":{"name":"lines"},"transform":[{"filter":"datum.p=='a3'"}],"mark":{"type":"rule","color":"#b4b4b4","strokeWidth":1.3},"encoding":{"x":{"field":"t","type":"quantitative","scale":{"domain":[-6,45],"padding":0},"axis":{"values":[-6,0,9,18,27,36,45],"title":"Time (×100s)"}},"y":{"field":"lo","type":"quantitative","scale":{"domain":[-60,100],"padding":0},"axis":null},"y2":{"field":"hi"}}},
{"data":{"name":"lines"},"transform":[{"filter":"datum.p=='a3'"},{"window":[{"op":"lead","field":"t","as":"t2"},{"op":"lead","field":"v","as":"v2"}],"sort":[{"field":"t","order":"ascending"}]},{"filter":"datum.t2!=null"}],"mark":{"type":"rule","strokeWidth":14,"strokeCap":"round","color":"#b4b4b4","clip":true},"encoding":{"x":{"field":"t","type":"quantitative"},"x2":{"field":"t2"},"y":{"field":"v","type":"quantitative"},"y2":{"field":"v2"}}},
{"data":{"name":"lines"},"transform":[{"filter":"datum.p=='a3'"},{"window":[{"op":"lead","field":"t","as":"t2"},{"op":"lead","field":"v","as":"v2"}],"sort":[{"field":"t","order":"ascending"}]},{"filter":"datum.t2!=null"}],"mark":{"type":"rule","strokeWidth":3.5,"strokeCap":"round","clip":true},"encoding":{"x":{"field":"t","type":"quantitative"},"x2":{"field":"t2"},"y":{"field":"v","type":"quantitative"},"y2":{"field":"v2"},"color":{"field":"k","type":"nominal","scale":{"domain":["n","d","u"],"range":["#000000","#6b6bff","#f87a7a"]},"legend":null}}},
{"data":{"values":[{}]},"mark":{"type":"rule","strokeDash":[2,2],"strokeWidth":2,"color":"#000"},"encoding":{"x":{"datum":0}}},
{"data":{"values":[{}]},"mark":{"type":"rule","strokeDash":[2,2],"strokeWidth":1.5,"color":"#000"},"encoding":{"x":{"datum":0},"x2":{"datum":24},"y":{"datum":90}}},
{"data":{"values":[{}]},"mark":{"type":"text","fontSize":16,"fontWeight":"bold","align":"center","baseline":"middle","color":"#000"},"encoding":{"x":{"datum":19.5},"y":{"datum":112},"text":{"value":"Cocaine + WAY100635"}}}
]}
]},
{"spacing":10,"resolve":{"scale":{"color":"independent","fill":"independent"}},
"hconcat":[
{"width":190,"height":146,"layer":[
{"data":{"name":"lines"},"transform":[{"filter":"datum.p=='b1'"}],"mark":{"type":"rule","color":"#b4b4b4","strokeWidth":1.3},"encoding":{"x":{"field":"t","type":"quantitative","scale":{"domain":[-6,45],"padding":0},"axis":{"values":[-6,0,9,18,27,36,45],"title":"Time (×100s)"}},"y":{"field":"lo","type":"quantitative","scale":{"domain":[-60,100],"padding":0},"axis":{"values":[-60,-40,-20,0,20,40,60,80,100],"title":"ΔF/F (%)"}},"y2":{"field":"hi"}}},
{"data":{"name":"lines"},"transform":[{"filter":"datum.p=='b1'"},{"window":[{"op":"lead","field":"t","as":"t2"},{"op":"lead","field":"v","as":"v2"}],"sort":[{"field":"t","order":"ascending"}]},{"filter":"datum.t2!=null"}],"mark":{"type":"rule","strokeWidth":14,"strokeCap":"round","color":"#b4b4b4","clip":true},"encoding":{"x":{"field":"t","type":"quantitative"},"x2":{"field":"t2"},"y":{"field":"v","type":"quantitative"},"y2":{"field":"v2"}}},
{"data":{"name":"lines"},"transform":[{"filter":"datum.p=='b1'"},{"window":[{"op":"lead","field":"t","as":"t2"},{"op":"lead","field":"v","as":"v2"}],"sort":[{"field":"t","order":"ascending"}]},{"filter":"datum.t2!=null"}],"mark":{"type":"rule","strokeWidth":3.5,"strokeCap":"round","clip":true},"encoding":{"x":{"field":"t","type":"quantitative"},"x2":{"field":"t2"},"y":{"field":"v","type":"quantitative"},"y2":{"field":"v2"},"color":{"field":"k","type":"nominal","scale":{"domain":["n","d","u"],"range":["#000000","#6b6bff","#f87a7a"]},"legend":null}}},
{"data":{"values":[{}]},"mark":{"type":"rule","strokeDash":[2,2],"strokeWidth":2,"color":"#000"},"encoding":{"x":{"datum":0}}},
{"data":{"values":[{}]},"mark":{"type":"rule","strokeDash":[2,2],"strokeWidth":1.5,"color":"#000"},"encoding":{"x":{"datum":0},"x2":{"datum":24},"y":{"datum":90}}},
{"data":{"values":[{}]},"mark":{"type":"text","fontSize":16,"fontWeight":"bold","align":"center","baseline":"middle","color":"#000"},"encoding":{"x":{"datum":19.5},"y":{"datum":113},"text":{"value":"MDMA + Saline"}}},
{"data":{"values":[{}]},"mark":{"type":"text","fontSize":20,"fontWeight":"bold","align":"left","baseline":"middle","color":"#000"},"encoding":{"x":{"datum":-18.9},"y":{"datum":121},"text":{"value":"b"}}}
]},
{"width":190,"height":146,"layer":[
{"data":{"name":"lines"},"transform":[{"filter":"datum.p=='b2'"}],"mark":{"type":"rule","color":"#b4b4b4","strokeWidth":1.3},"encoding":{"x":{"field":"t","type":"quantitative","scale":{"domain":[-6,45],"padding":0},"axis":{"values":[-6,0,9,18,27,36,45],"title":"Time (×100s)"}},"y":{"field":"lo","type":"quantitative","scale":{"domain":[-60,100],"padding":0},"axis":null},"y2":{"field":"hi"}}},
{"data":{"name":"lines"},"transform":[{"filter":"datum.p=='b2'"},{"window":[{"op":"lead","field":"t","as":"t2"},{"op":"lead","field":"v","as":"v2"}],"sort":[{"field":"t","order":"ascending"}]},{"filter":"datum.t2!=null"}],"mark":{"type":"rule","strokeWidth":14,"strokeCap":"round","color":"#b4b4b4","clip":true},"encoding":{"x":{"field":"t","type":"quantitative"},"x2":{"field":"t2"},"y":{"field":"v","type":"quantitative"},"y2":{"field":"v2"}}},
{"data":{"name":"lines"},"transform":[{"filter":"datum.p=='b2'"},{"window":[{"op":"lead","field":"t","as":"t2"},{"op":"lead","field":"v","as":"v2"}],"sort":[{"field":"t","order":"ascending"}]},{"filter":"datum.t2!=null"}],"mark":{"type":"rule","strokeWidth":3.5,"strokeCap":"round","clip":true},"encoding":{"x":{"field":"t","type":"quantitative"},"x2":{"field":"t2"},"y":{"field":"v","type":"quantitative"},"y2":{"field":"v2"},"color":{"field":"k","type":"nominal","scale":{"domain":["n","d","u"],"range":["#000000","#6b6bff","#f87a7a"]},"legend":null}}},
{"data":{"values":[{}]},"mark":{"type":"rule","strokeDash":[2,2],"strokeWidth":2,"color":"#000"},"encoding":{"x":{"datum":0}}},
{"data":{"values":[{}]},"mark":{"type":"rule","strokeDash":[2,2],"strokeWidth":1.5,"color":"#000"},"encoding":{"x":{"datum":0},"x2":{"datum":24},"y":{"datum":90}}},
{"data":{"values":[{}]},"mark":{"type":"text","fontSize":16,"fontWeight":"bold","align":"center","baseline":"middle","color":"#000"},"encoding":{"x":{"datum":19.5},"y":{"datum":113},"text":{"value":"MDMA + Haloperidol"}}}
]},
{"width":190,"height":146,"layer":[
{"data":{"name":"lines"},"transform":[{"filter":"datum.p=='b3'"}],"mark":{"type":"rule","color":"#b4b4b4","strokeWidth":1.3},"encoding":{"x":{"field":"t","type":"quantitative","scale":{"domain":[-6,45],"padding":0},"axis":{"values":[-6,0,9,18,27,36,45],"title":"Time (×100s)"}},"y":{"field":"lo","type":"quantitative","scale":{"domain":[-60,100],"padding":0},"axis":null},"y2":{"field":"hi"}}},
{"data":{"name":"lines"},"transform":[{"filter":"datum.p=='b3'"},{"window":[{"op":"lead","field":"t","as":"t2"},{"op":"lead","field":"v","as":"v2"}],"sort":[{"field":"t","order":"ascending"}]},{"filter":"datum.t2!=null"}],"mark":{"type":"rule","strokeWidth":14,"strokeCap":"round","color":"#b4b4b4","clip":true},"encoding":{"x":{"field":"t","type":"quantitative"},"x2":{"field":"t2"},"y":{"field":"v","type":"quantitative"},"y2":{"field":"v2"}}},
{"data":{"name":"lines"},"transform":[{"filter":"datum.p=='b3'"},{"window":[{"op":"lead","field":"t","as":"t2"},{"op":"lead","field":"v","as":"v2"}],"sort":[{"field":"t","order":"ascending"}]},{"filter":"datum.t2!=null"}],"mark":{"type":"rule","strokeWidth":3.5,"strokeCap":"round","clip":true},"encoding":{"x":{"field":"t","type":"quantitative"},"x2":{"field":"t2"},"y":{"field":"v","type":"quantitative"},"y2":{"field":"v2"},"color":{"field":"k","type":"nominal","scale":{"domain":["n","d","u"],"range":["#000000","#6b6bff","#f87a7a"]},"legend":null}}},
{"data":{"values":[{}]},"mark":{"type":"rule","strokeDash":[2,2],"strokeWidth":2,"color":"#000"},"encoding":{"x":{"datum":0}}},
{"data":{"values":[{}]},"mark":{"type":"rule","strokeDash":[2,2],"strokeWidth":1.5,"color":"#000"},"encoding":{"x":{"datum":0},"x2":{"datum":24},"y":{"datum":90}}},
{"data":{"values":[{}]},"mark":{"type":"text","fontSize":16,"fontWeight":"bold","align":"center","baseline":"middle","color":"#000"},"encoding":{"x":{"datum":19.5},"y":{"datum":113},"text":{"value":"MDMA + WAY100635"}}}
]}
]}
]},
{"spacing":10,"resolve":{"scale":{"color":"independent","fill":"independent"}},
"vconcat":[
{"spacing":56,"resolve":{"scale":{"color":"independent","fill":"independent"}},
"hconcat":[
{"width":262,"height":125,
"layer":[
{"data":{"name":"cgrp"},"mark":{"type":"rect","color":"#a6a6a6"},"encoding":{"x":{"field":"x0","type":"quantitative","scale":{"domain":[0,10],"padding":0},"axis":null},"x2":{"field":"x1"},"y":{"datum":16,"type":"quantitative","scale":{"domain":[-60,0],"padding":0},"axis":{"values":[-60,-40,-20,0],"title":"ΔF/F (%)"}},"y2":{"datum":-65.5}}},
{"data":{"name":"cgrp"},"mark":{"type":"text","color":"#ffffff","fontSize":14},"encoding":{"x":{"field":"lx","type":"quantitative"},"y":{"datum":10.6},"text":{"field":"lab"}}},
{"data":{"name":"sal"},"mark":{"type":"text","angle":270,"align":"left","baseline":"middle","fontSize":14,"color":"#000"},"encoding":{"x":{"field":"x","type":"quantitative"},"y":{"datum":1.5},"text":{"field":"lab"}}},
{"data":{"values":[{}]},"mark":{"type":"rule","strokeDash":[2,2],"strokeWidth":1.5,"color":"#000"},"encoding":{"x":{"datum":-0.1},"x2":{"datum":10},"y":{"datum":0}}},
{"data":{"name":"cbar"},"mark":{"type":"rule","strokeWidth":1.5,"color":"#000"},"encoding":{"x":{"field":"x","type":"quantitative"},"y":{"field":"v","type":"quantitative"},"y2":{"field":"e"}}},
{"data":{"name":"cbar"},"mark":{"type":"bar","width":18,"stroke":"#000","strokeWidth":1.5},"encoding":{"x":{"field":"x","type":"quantitative"},"y":{"field":"v","type":"quantitative"},"y2":{"datum":0},"fill":{"field":"g","type":"nominal","scale":{"domain":["Sal0","Sal","Halo","WAY"],"range":["#ffffff","#00aeef","#8dc63f","#ffd966"]},"legend":{"title":"Treatment","orient":"none","legendX":29,"legendY":141,"direction":"horizontal","titleAnchor":"middle","titleOrient":"top","titleFontSize":15,"titleFontWeight":"normal","titleColor":"#000","labelFontSize":14,"labelColor":"#000","symbolType":"M-1,-0.5H1V0.5H-1Z","symbolSize":324,"symbolStrokeColor":"#000","symbolStrokeWidth":1.5,"labelExpr":"datum.label=='Sal0'?'Sal':datum.label","columnPadding":6,"labelOffset":3,"titlePadding":3}}}},
{"data":{"name":"csig"},"mark":{"type":"rule","strokeWidth":1.3,"color":"#222"},"encoding":{"x":{"field":"x","type":"quantitative"},"x2":{"field":"x2"},"y":{"field":"y","type":"quantitative"},"y2":{"field":"y2"}}},
{"data":{"name":"ctxt"},"mark":{"type":"text","fontSize":13,"color":"#222","baseline":"middle"},"encoding":{"x":{"field":"x","type":"quantitative"},"y":{"field":"y","type":"quantitative"},"text":{"field":"s"}}},
{"data":{"values":[{}]},"mark":{"type":"text","fontSize":20,"fontWeight":"bold","align":"left","baseline":"middle","color":"#000"},"encoding":{"x":{"datum":-1.83},"y":{"datum":11.5},"text":{"value":"c"}}}
]},
{"width":262,"height":124,
"layer":[
{"data":{"name":"dgrp"},"mark":{"type":"rect","color":"#a6a6a6"},"encoding":{"x":{"field":"x0","type":"quantitative","scale":{"domain":[0,10],"padding":0},"axis":null},"x2":{"field":"x1"},"y":{"datum":0.99,"type":"quantitative","scale":{"domain":[0,0.8],"padding":0},"axis":{"values":[0,0.2,0.4,0.6,0.8],"format":"~g","title":"AUROC","titleFontSize":17}},"y2":{"datum":-0.22}}},
{"data":{"name":"dgrp"},"mark":{"type":"text","color":"#ffffff","fontSize":14},"encoding":{"x":{"field":"lx","type":"quantitative"},"y":{"datum":-0.16},"text":{"field":"lab"}}},
{"data":{"name":"sal"},"mark":{"type":"text","angle":270,"align":"right","baseline":"middle","fontSize":14,"color":"#000"},"encoding":{"x":{"field":"x","type":"quantitative"},"y":{"datum":-0.03},"text":{"field":"lab"}}},
{"data":{"values":[{}]},"mark":{"type":"rule","strokeDash":[2,2],"strokeWidth":1.5,"color":"#000"},"encoding":{"x":{"datum":0.08},"x2":{"datum":10.04},"y":{"datum":0.5}}},
{"data":{"name":"dbox"},"mark":{"type":"rule","strokeWidth":1.5,"color":"#000"},"encoding":{"x":{"field":"x","type":"quantitative"},"y":{"field":"lo","type":"quantitative"},"y2":{"field":"hi"}}},
{"data":{"name":"dbox"},"mark":{"type":"bar","width":8,"fillOpacity":0,"stroke":"#000","strokeWidth":1.5},"encoding":{"x":{"field":"x","type":"quantitative"},"y":{"field":"hi","type":"quantitative"},"y2":{"field":"hi"}}},
{"data":{"name":"dbox"},"mark":{"type":"bar","width":8,"fillOpacity":0,"stroke":"#000","strokeWidth":1.5},"encoding":{"x":{"field":"x","type":"quantitative"},"y":{"field":"lo","type":"quantitative"},"y2":{"field":"lo"}}},
{"data":{"name":"dbox"},"mark":{"type":"bar","width":18,"stroke":"#000","strokeWidth":1.5},"encoding":{"x":{"field":"x","type":"quantitative"},"y":{"field":"q1","type":"quantitative"},"y2":{"field":"q3"},"fill":{"field":"g","type":"nominal","scale":{"domain":["Sal0","Sal","Halo","WAY"],"range":["#ffffff","#00aeef","#8dc63f","#ffd966"]},"legend":null}}},
{"data":{"name":"dbox"},"mark":{"type":"bar","width":18,"fillOpacity":0,"stroke":"#000","strokeWidth":1.5},"encoding":{"x":{"field":"x","type":"quantitative"},"y":{"field":"med","type":"quantitative"},"y2":{"field":"med"}}},
{"data":{"name":"dsig"},"mark":{"type":"rule","strokeWidth":1.3,"color":"#222"},"encoding":{"x":{"field":"x","type":"quantitative"},"x2":{"field":"x2"},"y":{"field":"y","type":"quantitative"},"y2":{"field":"y2"}}},
{"data":{"name":"dtxt"},"mark":{"type":"text","fontSize":13,"color":"#222","baseline":"middle"},"encoding":{"x":{"field":"x","type":"quantitative"},"y":{"field":"y","type":"quantitative"},"text":{"field":"s"}}},
{"data":{"values":[{}]},"mark":{"type":"text","fontSize":20,"fontWeight":"bold","align":"left","baseline":"middle","color":"#000"},"encoding":{"x":{"datum":-1.53},"y":{"datum":0.89},"text":{"value":"d"}}}
]}
]},
{"spacing":10,"resolve":{"scale":{"color":"independent","fill":"independent"}},
"hconcat":[
{"width":190,"height":146,"layer":[
{"data":{"name":"lines"},"transform":[{"filter":"datum.p=='e1'"}],"mark":{"type":"rule","color":"#b4b4b4","strokeWidth":1.3},"encoding":{"x":{"field":"t","type":"quantitative","scale":{"domain":[-6,45],"padding":0},"axis":{"values":[-6,0,9,18,27,36,45],"title":"Time (×100s)"}},"y":{"field":"lo","type":"quantitative","scale":{"domain":[-60,140],"padding":0},"axis":{"values":[-60,-40,-20,0,20,40,60,80,100,120,140],"title":"ΔF/F (%)"}},"y2":{"field":"hi"}}},
{"data":{"name":"lines"},"transform":[{"filter":"datum.p=='e1'"},{"window":[{"op":"lead","field":"t","as":"t2"},{"op":"lead","field":"v","as":"v2"}],"sort":[{"field":"t","order":"ascending"}]},{"filter":"datum.t2!=null"}],"mark":{"type":"rule","strokeWidth":12,"strokeCap":"round","color":"#b4b4b4","clip":true},"encoding":{"x":{"field":"t","type":"quantitative"},"x2":{"field":"t2"},"y":{"field":"v","type":"quantitative"},"y2":{"field":"v2"}}},
{"data":{"name":"lines"},"transform":[{"filter":"datum.p=='e1'"},{"window":[{"op":"lead","field":"t","as":"t2"},{"op":"lead","field":"v","as":"v2"}],"sort":[{"field":"t","order":"ascending"}]},{"filter":"datum.t2!=null"}],"mark":{"type":"rule","strokeWidth":3.5,"strokeCap":"round","clip":true},"encoding":{"x":{"field":"t","type":"quantitative"},"x2":{"field":"t2"},"y":{"field":"v","type":"quantitative"},"y2":{"field":"v2"},"color":{"field":"k","type":"nominal","scale":{"domain":["n","d","u"],"range":["#000000","#6b6bff","#f87a7a"]},"legend":null}}},
{"data":{"values":[{}]},"mark":{"type":"rule","strokeDash":[2,2],"strokeWidth":2,"color":"#000"},"encoding":{"x":{"datum":0}}},
{"data":{"values":[{}]},"mark":{"type":"rule","strokeDash":[2,2],"strokeWidth":1.5,"color":"#000"},"encoding":{"x":{"datum":0},"x2":{"datum":24},"y":{"datum":125}}},
{"data":{"values":[{}]},"mark":{"type":"text","fontSize":16,"fontWeight":"bold","align":"center","baseline":"middle","color":"#000"},"encoding":{"x":{"datum":19.5},"y":{"datum":156},"text":{"value":"Cocaine + Saline"}}},
{"data":{"values":[{}]},"mark":{"type":"text","fontSize":20,"fontWeight":"bold","align":"left","baseline":"middle","color":"#000"},"encoding":{"x":{"datum":-18.9},"y":{"datum":164.7},"text":{"value":"e"}}}
]},
{"width":190,"height":146,"layer":[
{"data":{"name":"lines"},"transform":[{"filter":"datum.p=='e2'"}],"mark":{"type":"rule","color":"#b4b4b4","strokeWidth":1.3},"encoding":{"x":{"field":"t","type":"quantitative","scale":{"domain":[-6,45],"padding":0},"axis":{"values":[-6,0,9,18,27,36,45],"title":"Time (×100s)"}},"y":{"field":"lo","type":"quantitative","scale":{"domain":[-60,140],"padding":0},"axis":null},"y2":{"field":"hi"}}},
{"data":{"name":"lines"},"transform":[{"filter":"datum.p=='e2'"},{"window":[{"op":"lead","field":"t","as":"t2"},{"op":"lead","field":"v","as":"v2"}],"sort":[{"field":"t","order":"ascending"}]},{"filter":"datum.t2!=null"}],"mark":{"type":"rule","strokeWidth":12,"strokeCap":"round","color":"#b4b4b4","clip":true},"encoding":{"x":{"field":"t","type":"quantitative"},"x2":{"field":"t2"},"y":{"field":"v","type":"quantitative"},"y2":{"field":"v2"}}},
{"data":{"name":"lines"},"transform":[{"filter":"datum.p=='e2'"},{"window":[{"op":"lead","field":"t","as":"t2"},{"op":"lead","field":"v","as":"v2"}],"sort":[{"field":"t","order":"ascending"}]},{"filter":"datum.t2!=null"}],"mark":{"type":"rule","strokeWidth":3.5,"strokeCap":"round","clip":true},"encoding":{"x":{"field":"t","type":"quantitative"},"x2":{"field":"t2"},"y":{"field":"v","type":"quantitative"},"y2":{"field":"v2"},"color":{"field":"k","type":"nominal","scale":{"domain":["n","d","u"],"range":["#000000","#6b6bff","#f87a7a"]},"legend":null}}},
{"data":{"values":[{}]},"mark":{"type":"rule","strokeDash":[2,2],"strokeWidth":2,"color":"#000"},"encoding":{"x":{"datum":0}}},
{"data":{"values":[{}]},"mark":{"type":"rule","strokeDash":[2,2],"strokeWidth":1.5,"color":"#000"},"encoding":{"x":{"datum":0},"x2":{"datum":24},"y":{"datum":125}}},
{"data":{"values":[{}]},"mark":{"type":"text","fontSize":16,"fontWeight":"bold","align":"center","baseline":"middle","color":"#000"},"encoding":{"x":{"datum":19.5},"y":{"datum":156},"text":{"value":"Cocaine + Haloperidol"}}}
]},
{"width":190,"height":146,"layer":[
{"data":{"name":"lines"},"transform":[{"filter":"datum.p=='e3'"}],"mark":{"type":"rule","color":"#b4b4b4","strokeWidth":1.3},"encoding":{"x":{"field":"t","type":"quantitative","scale":{"domain":[-6,45],"padding":0},"axis":{"values":[-6,0,9,18,27,36,45],"title":"Time (×100s)"}},"y":{"field":"lo","type":"quantitative","scale":{"domain":[-60,140],"padding":0},"axis":null},"y2":{"field":"hi"}}},
{"data":{"name":"lines"},"transform":[{"filter":"datum.p=='e3'"},{"window":[{"op":"lead","field":"t","as":"t2"},{"op":"lead","field":"v","as":"v2"}],"sort":[{"field":"t","order":"ascending"}]},{"filter":"datum.t2!=null"}],"mark":{"type":"rule","strokeWidth":12,"strokeCap":"round","color":"#b4b4b4","clip":true},"encoding":{"x":{"field":"t","type":"quantitative"},"x2":{"field":"t2"},"y":{"field":"v","type":"quantitative"},"y2":{"field":"v2"}}},
{"data":{"name":"lines"},"transform":[{"filter":"datum.p=='e3'"},{"window":[{"op":"lead","field":"t","as":"t2"},{"op":"lead","field":"v","as":"v2"}],"sort":[{"field":"t","order":"ascending"}]},{"filter":"datum.t2!=null"}],"mark":{"type":"rule","strokeWidth":3.5,"strokeCap":"round","clip":true},"encoding":{"x":{"field":"t","type":"quantitative"},"x2":{"field":"t2"},"y":{"field":"v","type":"quantitative"},"y2":{"field":"v2"},"color":{"field":"k","type":"nominal","scale":{"domain":["n","d","u"],"range":["#000000","#6b6bff","#f87a7a"]},"legend":null}}},
{"data":{"values":[{}]},"mark":{"type":"rule","strokeDash":[2,2],"strokeWidth":2,"color":"#000"},"encoding":{"x":{"datum":0}}},
{"data":{"values":[{}]},"mark":{"type":"rule","strokeDash":[2,2],"strokeWidth":1.5,"color":"#000"},"encoding":{"x":{"datum":0},"x2":{"datum":24},"y":{"datum":125}}},
{"data":{"values":[{}]},"mark":{"type":"text","fontSize":16,"fontWeight":"bold","align":"center","baseline":"middle","color":"#000"},"encoding":{"x":{"datum":19.5},"y":{"datum":156},"text":{"value":"Cocaine + WAY100635"}}}
]}
]}
]}
]
}
